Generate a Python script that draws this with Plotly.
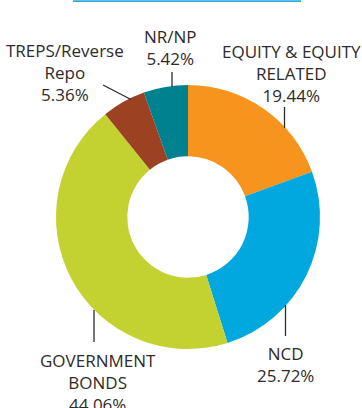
import plotly.graph_objects as go

# Portfolio allocation by asset class
categories = ["EQUITY & EQUITY RELATED", "NCD", "GOVERNMENT BONDS",
              "TREPS/Reverse Repo", "NR/NP"]
values = [19.44, 25.72, 44.06, 5.36, 5.42]
slice_colors = ["#F7941D", "#00A8DF", "#C4D231", "#9C4222", "#00818F"]

# how each category name is broken into lines on its callout
label_lines = [["EQUITY & EQUITY", "RELATED"], ["NCD"], ["GOVERNMENT", "BONDS"],
               ["TREPS/Reverse", "Repo"], ["NR/NP"]]

W, H = 362, 408
TEXT = "#2E2A2B"
FONT = "Open Sans"

# callout layout in pixel space: text block centre, leader line endpoints
callouts = [
    dict(x=291, y=73, lead=((284.5, 107), (284.5, 128))),
    dict(x=285.5, y=364, lead=((285.5, 305), (285.5, 336))),
    dict(x=97.5, y=382.5, lead=((94, 310), (94, 342))),
    dict(x=64.5, y=72, lead=((103, 85), (131, 99.5))),
    dict(x=170, y=47, lead=((172, 72), (172, 87))),
]

fig = go.Figure()

fig.add_trace(go.Pie(
    labels=categories,
    values=values,
    marker=dict(colors=slice_colors, line=dict(width=0)),
    hole=0.46,
    sort=False,
    direction="clockwise",
    rotation=0,
    textinfo="none",
    hoverinfo="label+percent",
    showlegend=False,
    domain=dict(x=[56 / W, 320 / W], y=[1 - 349 / H, 1 - 85 / H]),
))

annotations = []
shapes = []
for name_lines, val, c in zip(label_lines, values, callouts):
    txt = "<br>".join(name_lines + [f"{val:.2f}%"])
    annotations.append(dict(
        x=c["x"], y=c["y"], xref="x", yref="y",
        text=txt, showarrow=False, xanchor="center", yanchor="middle",
        align="center", font=dict(family=FONT, size=17, color=TEXT),
    ))
    (xa, ya), (xb, yb) = c["lead"]
    shapes.append(dict(type="line", xref="x", yref="y", x0=xa, y0=ya, x1=xb, y1=yb,
                       line=dict(color=TEXT, width=1.3)))

# thin rule along the top edge
shapes.append(dict(type="line", xref="x", yref="y", x0=73, y0=1.2, x1=301, y1=1.2,
                   line=dict(color="#2EA9DF", width=1.8)))

fig.update_layout(
    width=W, height=H,
    margin=dict(l=0, r=0, t=0, b=0),
    paper_bgcolor="white", plot_bgcolor="rgba(0,0,0,0)",
    xaxis=dict(range=[0, W], visible=False, fixedrange=True),
    yaxis=dict(range=[H, 0], visible=False, fixedrange=True),
    annotations=annotations,
    shapes=shapes,
)

fig.write_html("out.html")
